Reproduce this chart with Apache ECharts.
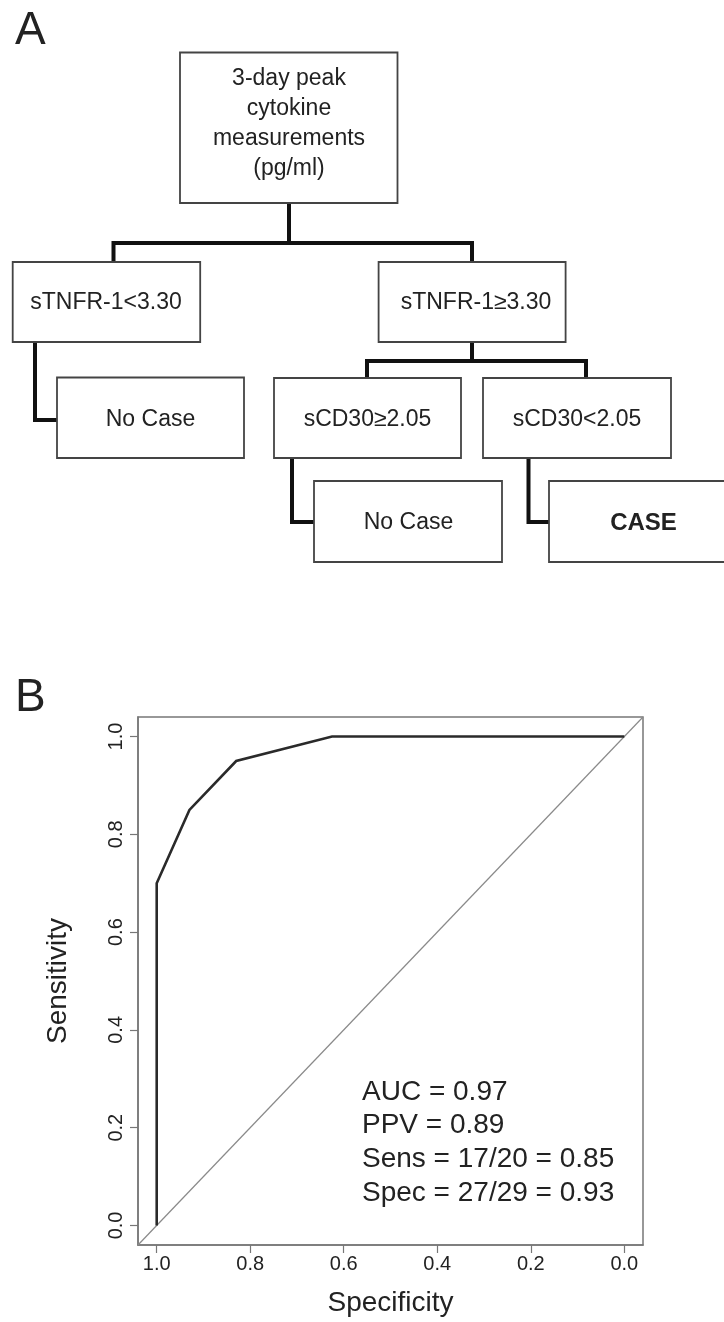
<!DOCTYPE html>
<html>
<head>
<meta charset="utf-8">
<script src="https://cdn.jsdelivr.net/npm/echarts@6.0.0/dist/echarts.min.js"></script>
<style>
html,body{margin:0;padding:0;background:#fff;}
#chart{width:724px;height:1322px;}
</style>
</head>
<body>
<div id="chart"></div>
<script>
// ---------- data ----------
const panelLabels = ['A', 'B'];
const rootLines = ['3-day peak', 'cytokine', 'measurements', '(pg/ml)'];
const nodeLabels = ['sTNFR-1<3.30', 'sTNFR-1≥3.30', 'No Case', 'sCD30≥2.05', 'sCD30<2.05', 'No Case', 'CASE'];
const specificity = [1.0, 1.0, 0.93, 0.83, 0.625, 0.0];
const sensitivity = [0.0, 0.70, 0.85, 0.95, 1.0, 1.0];
const tickValues = [0, 0.2, 0.4, 0.6, 0.8, 1.0];
const tickLabels = ['0.0', '0.2', '0.4', '0.6', '0.8', '1.0'];
const statLines = ['AUC = 0.97', 'PPV = 0.89', 'Sens = 17/20 = 0.85', 'Spec = 27/29 = 0.93'];
const xName = 'Specificity';
const yName = 'Sensitivity';

// ---------- layout (pixels) ----------
const FONT = "'Liberation Sans', Arial, Helvetica, sans-serif";
const TXT = '#222';
const BOX_STROKE = '#444';
const LINK = '#111';
// node boxes: [x, y, w, h, textCx, textCy, bold]
const nodeBoxes = [
  [12.7, 262, 187.5, 80, 106, 303, false],
  [378.6, 262, 187, 80, 476, 303, false],
  [57, 377.5, 187, 80.5, 150.5, 420, false],
  [274, 378, 187, 80, 367.5, 420, false],
  [483, 378, 188, 80, 577, 420, false],
  [314, 481, 188, 81, 408.5, 523, false],
  [549, 481, 188, 81, 643.5, 523, true]
];
const rootBox = [180, 52.5, 217.5, 150.5];
const links = [
  [[289, 203], [289, 243]],
  [[113.5, 262], [113.5, 243], [472, 243], [472, 262]],
  [[35, 342], [35, 420], [57, 420]],
  [[472, 342], [472, 361]],
  [[367, 378], [367, 361], [586, 361], [586, 378]],
  [[292, 458], [292, 522], [314, 522]],
  [[528.5, 458], [528.5, 522], [549, 522]]
];

const graphics = [];
links.forEach(p => graphics.push({
  type: 'polyline', shape: { points: p },
  style: { stroke: LINK, lineWidth: 4, fill: null, lineJoin: 'miter', lineCap: 'butt' }, z: 10
}));
graphics.push({
  type: 'rect', shape: { x: rootBox[0], y: rootBox[1], width: rootBox[2], height: rootBox[3] },
  style: { fill: '#fff', stroke: BOX_STROKE, lineWidth: 1.8 }, z: 20
});
rootLines.forEach((t, i) => graphics.push({
  type: 'text', x: 289, y: 79 + i * 29.8, z: 30,
  style: { text: t, font: '23px ' + FONT, fill: TXT, align: 'center', verticalAlign: 'middle', textAlign: 'center', textVerticalAlign: 'middle' }
}));
nodeBoxes.forEach((b, i) => {
  graphics.push({
    type: 'rect', shape: { x: b[0], y: b[1], width: b[2], height: b[3] },
    style: { fill: '#fff', stroke: BOX_STROKE, lineWidth: 1.8 }, z: 20
  });
  graphics.push({
    type: 'text', x: b[4], y: b[5], z: 30,
    style: { text: nodeLabels[i], font: (b[6] ? 'bold 24px ' : '23px ') + FONT, fill: TXT,
      align: 'center', verticalAlign: 'middle', textAlign: 'center', textVerticalAlign: 'middle' }
  });
});
// panel letters
graphics.push({ type: 'text', x: 15, y: 31, z: 30,
  style: { text: panelLabels[0], font: '46px ' + FONT, fill: TXT, align: 'left', verticalAlign: 'middle', textAlign: 'left', textVerticalAlign: 'middle' } });
graphics.push({ type: 'text', x: 15, y: 698, z: 30,
  style: { text: panelLabels[1], font: '46px ' + FONT, fill: TXT, align: 'left', verticalAlign: 'middle', textAlign: 'left', textVerticalAlign: 'middle' } });
// stats text
statLines.forEach((t, i) => graphics.push({
  type: 'text', x: 362, y: 1092 + i * 33.7, z: 30,
  style: { text: t, font: '28px ' + FONT, fill: TXT, align: 'left', verticalAlign: 'middle', textAlign: 'left', textVerticalAlign: 'middle' }
}));

const fmt = v => {
  const i = tickValues.findIndex(t => Math.abs(t - v) < 1e-6);
  return i >= 0 ? tickLabels[i] : '';
};

const chart = echarts.init(document.getElementById('chart'), null, { renderer: 'canvas' });
chart.setOption({
  animation: false,
  backgroundColor: '#fff',
  grid: { left: 138, top: 717, width: 505, height: 528, show: true, borderColor: '#777', borderWidth: 1.5, backgroundColor: 'transparent' },
  xAxis: {
    type: 'value', inverse: true, min: -0.04, max: 1.04,
    name: xName, nameLocation: 'middle', nameGap: 44,
    nameTextStyle: { fontFamily: FONT, fontSize: 28, color: TXT },
    axisLine: { show: true, onZero: false, lineStyle: { color: '#777', width: 1.5 } },
    axisTick: { show: true, length: 8, inside: false, customValues: tickValues, lineStyle: { color: '#777', width: 1.2 } },
    axisLabel: { show: true, customValues: tickValues, formatter: fmt, margin: 9, fontFamily: FONT, fontSize: 20, color: TXT },
    splitLine: { show: false }
  },
  yAxis: {
    type: 'value', min: -0.04, max: 1.04,
    name: yName, nameLocation: 'middle', nameGap: 66, nameRotate: 90,
    nameTextStyle: { fontFamily: FONT, fontSize: 28, color: TXT },
    axisLine: { show: true, onZero: false, lineStyle: { color: '#777', width: 1.5 } },
    axisTick: { show: true, length: 8, inside: false, customValues: tickValues, lineStyle: { color: '#777', width: 1.2 } },
    axisLabel: { show: true, customValues: tickValues, formatter: fmt, rotate: 90, margin: 12, fontFamily: FONT, fontSize: 20, color: TXT },
    splitLine: { show: false }
  },
  series: [
    {
      type: 'line', name: 'chance', silent: true, symbol: 'none',
      data: [[1.04, -0.04], [-0.04, 1.04]],
      lineStyle: { color: '#8a8a8a', width: 1.2 }, z: 2
    },
    {
      type: 'line', name: 'ROC', silent: true, symbol: 'none',
      data: specificity.map((s, i) => [s, sensitivity[i]]),
      lineStyle: { color: '#2a2a2a', width: 2.6, join: 'miter' }, z: 3
    }
  ],
  graphic: graphics
});
</script>
</body>
</html>
